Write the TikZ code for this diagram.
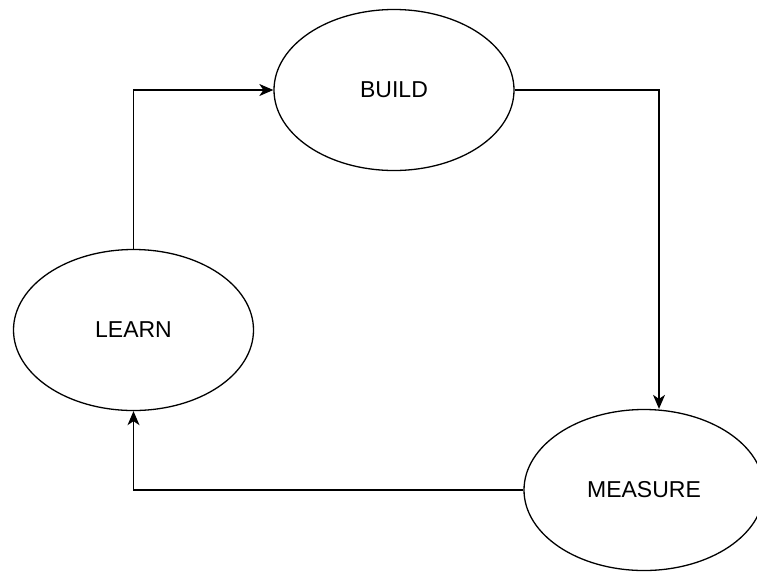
\documentclass[tikz,border=0pt]{standalone}
\usepackage{fontspec}
\setmainfont{Liberation Sans}
\usetikzlibrary{shapes.geometric,arrows.meta}
\begin{document}
\begin{tikzpicture}[x=1pt,y=-1pt,
  state/.style={ellipse,draw,line width=1.3pt,minimum width=240pt,minimum height=161pt,inner sep=0pt,font=\fontsize{23}{26}\selectfont},
  flow/.style={line width=1.3pt,-{Stealth[length=14pt,width=12pt,inset=4pt]}}]
\useasboundingbox (0,0) rectangle (757,574);
\node[state] (build) at (394,90) {BUILD};
\node[state] (learn) at (133.5,330) {LEARN};
\node[state] (measure) at (644,490) {MEASURE};
\draw[flow] (learn.north) |- (build.west);
\draw[flow] (build.east) -| ([xshift=15pt]measure.north);
\draw[flow] (measure.west) -| (learn.south);
\end{tikzpicture}
\end{document}
